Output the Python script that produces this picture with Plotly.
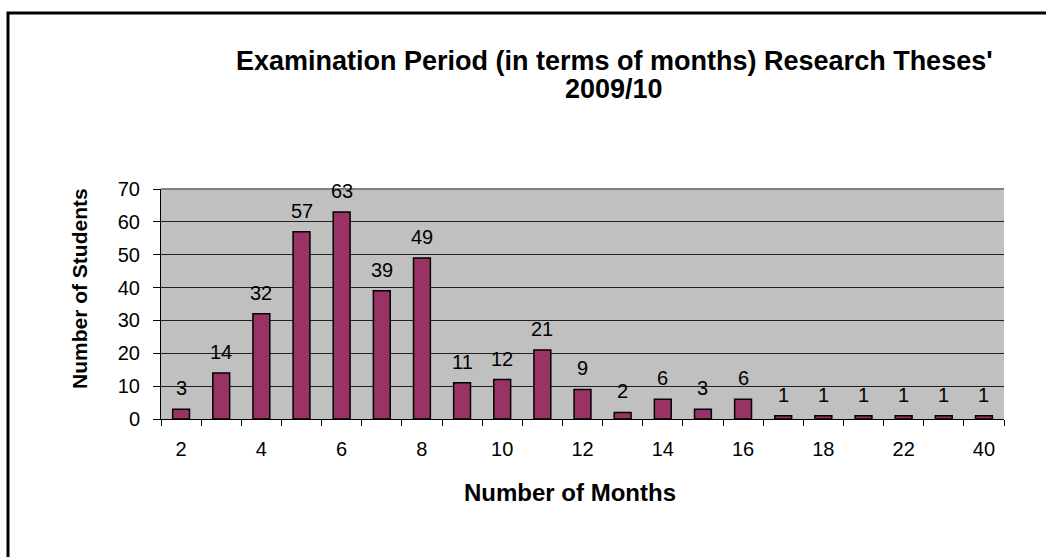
import plotly.graph_objects as go

months = ["2", "3", "4", "5", "6", "7", "8", "9", "10", "11", "12", "13", "14",
          "15", "16", "17", "18", "20", "22", "30", "40"]
students = [3, 14, 32, 57, 63, 39, 49, 11, 12, 21, 9, 2, 6, 3, 6, 1, 1, 1, 1, 1, 1]
shown_labels = ["2", "4", "6", "8", "10", "12", "14", "16", "18", "22", "40"]

W, H = 1046, 557
L, R, T, B = 161, 42, 189, 138
pw, ph = W - L - R, H - T - B

def px(x):
    return (x - L) / pw

def py(y):
    return (H - B - y) / ph

FONT = "Arial, Liberation Sans, sans-serif"

fig = go.Figure(go.Bar(
    x=months, y=students,
    marker=dict(color="#993366", line=dict(color="black", width=1.5)),
    width=0.42,
    cliponaxis=False,
))

# value labels, placed at each bar's category index
for i, v in enumerate(students):
    fig.add_annotation(x=i, y=v, xref="x", yref="y", text=str(v), showarrow=False,
                       xanchor="center", yanchor="bottom", yshift=8,
                       font=dict(family=FONT, size=20, color="black"))

fig.update_layout(
    width=W, height=H,
    margin=dict(l=L, r=R, t=T, b=B),
    paper_bgcolor="white", plot_bgcolor="#C0C0C0",
    showlegend=False,
    font=dict(family=FONT, color="black"),
)
fig.update_xaxes(
    type="category",
    range=[-0.5, len(months) - 0.5], autorange=False,
    tickmode="array", tickvals=months,
    ticktext=[m if m in shown_labels else "" for m in months],
    tickangle=0,
    tickson="boundaries", ticks="outside", ticklen=6, tickcolor="black",
    tickfont=dict(size=20, family=FONT, color="black"),
    ticklabelstandoff=12,
    showline=True, linecolor="black", linewidth=1,
    showgrid=False,
)
fig.update_yaxes(
    range=[0, 70], autorange=False, dtick=10, tick0=0,
    ticks="outside", ticklen=7, tickcolor="black",
    tickfont=dict(size=20, family=FONT, color="black"),
    ticklabelstandoff=9,
    showline=True, linecolor="black", linewidth=1,
    showgrid=True, gridcolor="#202020", gridwidth=1.3,
    zeroline=False,
)

# plot area top border (gray)
fig.add_shape(type="line", xref="paper", yref="paper", x0=0, x1=1, y0=1, y1=1,
              line=dict(color="#808080", width=2))
# outer chart frame
fig.add_shape(type="rect", xref="paper", yref="paper",
              x0=px(8), x1=px(1060), y0=py(575), y1=py(13),
              line=dict(color="black", width=3))

fig.add_annotation(xref="paper", yref="paper", x=px(614), y=py(61),
                   xanchor="center", yanchor="middle", showarrow=False,
                   text="<b>Examination Period (in terms of months) Research Theses'</b>",
                   font=dict(family=FONT, size=27, color="black"))
fig.add_annotation(xref="paper", yref="paper", x=px(614), y=py(89),
                   xanchor="center", yanchor="middle", showarrow=False,
                   text="<b>2009/10</b>",
                   font=dict(family=FONT, size=27, color="black"))
fig.add_annotation(xref="paper", yref="paper", x=px(570), y=py(492),
                   xanchor="center", yanchor="middle", showarrow=False,
                   text="<b>Number of Months</b>",
                   font=dict(family=FONT, size=24, color="black"))
fig.add_annotation(xref="paper", yref="paper", x=px(79), y=py(289),
                   xanchor="center", yanchor="middle", showarrow=False, textangle=-90,
                   text="<b>Number of Students</b>",
                   font=dict(family=FONT, size=21, color="black"))

fig.write_html("out.html", config={"displayModeBar": False},
               post_script="document.body.style.margin='0px';")
